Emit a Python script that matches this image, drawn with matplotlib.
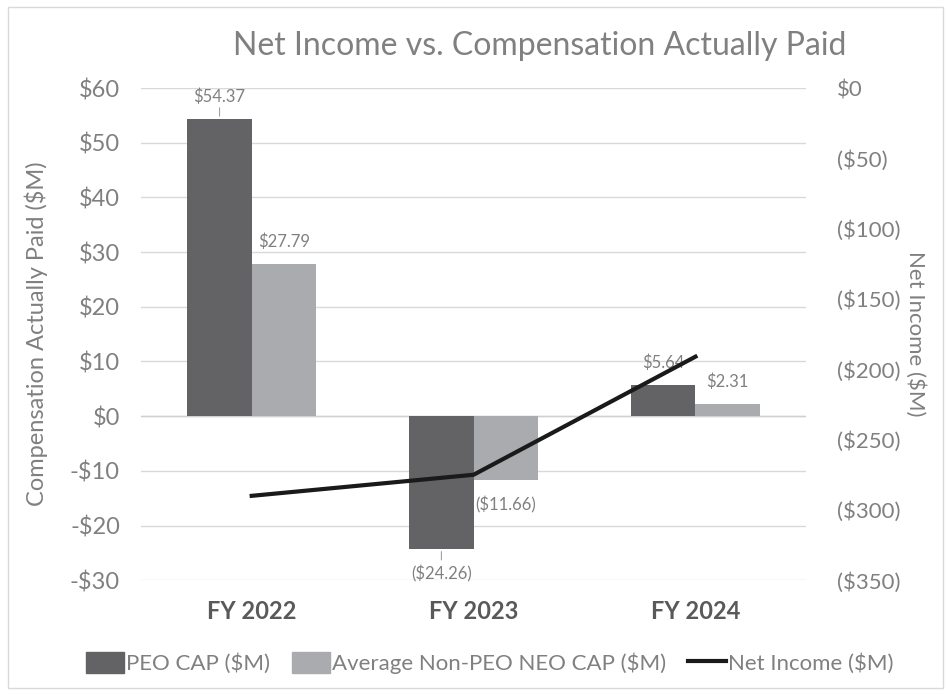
import numpy as np
import matplotlib
matplotlib.use("Agg")
import matplotlib.pyplot as plt
from matplotlib.lines import Line2D
from matplotlib.patches import Patch, Rectangle

plt.rcParams['font.family'] = ['Lato', 'DejaVu Sans']

years = ["FY 2022", "FY 2023", "FY 2024"]
peo_cap = [54.37, -24.26, 5.64]
neo_cap = [27.79, -11.66, 2.31]
net_income = [-290, -275, -191]
peo_labels = ["$54.37", "($24.26)", "$5.64"]
neo_labels = ["$27.79", "($11.66)", "$2.31"]

txt = '#808080'
c_peo = '#636366'
c_neo = '#aaabae'

fig = plt.figure(figsize=(9.51, 6.94), dpi=100)
fig.patches.append(Rectangle((0.008, 0.008), 0.984, 0.982, transform=fig.transFigure,
                             fill=False, ec='#d9d9d9', lw=1))
ax = fig.add_axes([0.148, 0.164, 0.700, 0.709])
ax2 = ax.twinx()

x = np.arange(len(years))
w = 0.29
ax.bar(x - w / 2, peo_cap, w, color=c_peo, zorder=3)
ax.bar(x + w / 2, neo_cap, w, color=c_neo, zorder=3)

ax.set_ylim(-30, 60)
ax.set_yticks(range(-30, 61, 10))
ax.set_yticklabels([f"${v}" if v >= 0 else f"-${-v}" for v in range(-30, 61, 10)])
ax.set_xlim(-0.5, 2.5)
ax.set_xticks(x)
ax.set_xticklabels(years, fontweight='bold')
ax.grid(axis='y', color='#d9d9d9', lw=1, zorder=0)
ax.axhline(0, color='#d0d0d0', lw=1, zorder=2)
for s in ax.spines.values():
    s.set_visible(False)
for s in ax2.spines.values():
    s.set_visible(False)
ax.tick_params(axis='y', length=0, colors=txt, labelsize=17, pad=15)
ax.tick_params(axis='x', length=0, pad=14, colors='#595959', labelsize=17)
ax.set_ylabel("Compensation Actually Paid ($M)", color=txt, fontsize=17, labelpad=16)

# data labels
for i in range(len(years)):
    for vals, labs, off in ((peo_cap, peo_labels, -w / 2), (neo_cap, neo_labels, w / 2)):
        v = vals[i]
        dy = 16 if v >= 0 else -18
        ax.annotate(labs[i], (x[i] + off, v), xytext=(0, dy), textcoords='offset points',
                    ha='center', va='center', fontsize=12, color=txt, zorder=5)

ax.annotate("", (x[0] - w / 2, peo_cap[0]), xytext=(0, 10), textcoords='offset points',
            arrowprops=dict(arrowstyle='-', color='#a0a0a0', lw=0.8))
ax.annotate("", (x[1] - w / 2, peo_cap[1]), xytext=(0, -10), textcoords='offset points',
            arrowprops=dict(arrowstyle='-', color='#a0a0a0', lw=0.8))

ax2.plot(x, net_income, color='#1a1a1a', lw=3, zorder=4)
ax2.set_ylim(-350, 0)
ax2.set_yticks(range(-350, 1, 50))
ax2.set_yticklabels([f"(${-v})" if v < 0 else "$0" for v in range(-350, 1, 50)])
ax2.tick_params(axis='y', length=0, colors=txt, labelsize=16, pad=22)
ax2.set_ylabel("Net Income ($M)", color=txt, fontsize=16, rotation=270, labelpad=18)

fig.suptitle("Net Income vs. Compensation Actually Paid", x=0.568, y=0.955,
             fontsize=23, color=txt)

handles = [Patch(color=c_peo), Patch(color=c_neo), Line2D([0], [0], color='#1a1a1a', lw=3)]
fig.legend(handles, ["PEO CAP ($M)", "Average Non-PEO NEO CAP ($M)", "Net Income ($M)"],
           loc='center', bbox_to_anchor=(0.515, 0.045), ncol=3, frameon=False,
           fontsize=16, labelcolor=txt, handlelength=1.7, handleheight=1.1,
           handletextpad=0.1, columnspacing=1.0)

fig.savefig("out.png", dpi=100)
